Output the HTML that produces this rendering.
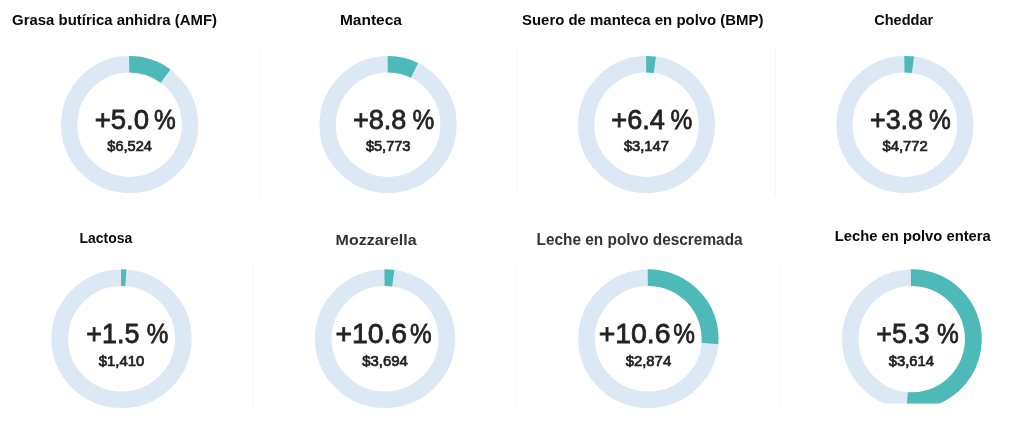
<!DOCTYPE html>
<html lang="es">
<head>
<meta charset="utf-8">
<title>Precios</title>
<style>
html,body{margin:0;padding:0;background:#fff}
body{width:1024px;height:422px;position:relative;overflow:hidden;font-family:"Liberation Sans",sans-serif}
.rings{position:absolute;left:0;top:0}
.sep{position:absolute;background:#f7f7f7;width:1px}
.t{position:absolute;left:0;top:0;white-space:pre;line-height:1;transform-origin:0 0;margin:0}
.h{font-weight:700}
.n{font-weight:400;-webkit-text-stroke:0.8px currentColor}
.d{font-weight:400;-webkit-text-stroke:0.7px currentColor}
</style>
</head>
<body>
<div class="sep" style="left:259px;top:46px;height:151px"></div>
<div class="sep" style="left:517px;top:46px;height:151px"></div>
<div class="sep" style="left:775px;top:46px;height:151px"></div>
<div class="sep" style="left:253px;top:262px;height:147px"></div>
<div class="sep" style="left:516px;top:262px;height:148px"></div>
<div class="sep" style="left:780px;top:262px;height:148px"></div>
<svg class="rings" width="1024" height="422" viewBox="0 0 1024 422">
<defs><clipPath id="c8"><rect x="830" y="250" width="170" height="153.5"/></clipPath></defs>
<g><g transform="translate(129.6 124.65)"><circle cx="0" cy="0" r="60.40" fill="none" stroke="#dde8f5" stroke-width="16.30"/><path d="M-0.48 -68.67A68.67 68.67 0 0 1 40.94 -55.13L31.08 -41.85A52.13 52.13 0 0 0 -0.36 -52.13Z" fill="#4db9b8"/></g></g>
<g><g transform="translate(388.05 124.65)"><circle cx="0" cy="0" r="60.40" fill="none" stroke="#dde8f5" stroke-width="16.30"/><path d="M-0.36 -68.67A68.67 68.67 0 0 1 30.10 -61.72L22.85 -46.85A52.13 52.13 0 0 0 -0.27 -52.13Z" fill="#4db9b8"/></g></g>
<g><g transform="translate(646.5 124.65)"><circle cx="0" cy="0" r="60.40" fill="none" stroke="#dde8f5" stroke-width="16.30"/><path d="M-0.36 -68.67A68.67 68.67 0 0 1 9.44 -68.02L7.16 -51.64A52.13 52.13 0 0 0 -0.27 -52.13Z" fill="#4db9b8"/></g></g>
<g><g transform="translate(904.9 124.65)"><circle cx="0" cy="0" r="60.40" fill="none" stroke="#dde8f5" stroke-width="16.30"/><path d="M-0.60 -68.67A68.67 68.67 0 0 1 9.20 -68.05L6.98 -51.66A52.13 52.13 0 0 0 -0.45 -52.13Z" fill="#4db9b8"/></g></g>
<g><g transform="translate(121.55 338.7) scale(1.0226 1.0102)"><circle cx="0" cy="0" r="60.40" fill="none" stroke="#dde8f5" stroke-width="16.30"/><path d="M-0.48 -68.67A68.67 68.67 0 0 1 4.79 -68.50L3.64 -52.00A52.13 52.13 0 0 0 -0.36 -52.13Z" fill="#4db9b8"/></g></g>
<g><g transform="translate(385.0 338.7) scale(1.0226 1.0102)"><circle cx="0" cy="0" r="60.40" fill="none" stroke="#dde8f5" stroke-width="16.30"/><path d="M-0.60 -68.67A68.67 68.67 0 0 1 9.20 -68.05L6.98 -51.66A52.13 52.13 0 0 0 -0.45 -52.13Z" fill="#4db9b8"/></g></g>
<g><g transform="translate(648.35 338.7) scale(1.0226 1.0102)"><circle cx="0" cy="0" r="60.40" fill="none" stroke="#dde8f5" stroke-width="16.30"/><path d="M-0.60 -68.67A68.67 68.67 0 0 1 68.46 5.39L51.97 4.09A52.13 52.13 0 0 0 -0.45 -52.13Z" fill="#4db9b8"/></g></g>
<g clip-path="url(#c8)"><g transform="translate(911.8 339.2) scale(1.0182 1.0182)"><circle cx="0" cy="0" r="60.40" fill="none" stroke="#dde8f5" stroke-width="16.30"/><path d="M-0.96 -68.66A68.67 68.67 0 1 1 -5.15 68.48L-3.91 51.98A52.13 52.13 0 1 0 -0.73 -52.12Z" fill="#4db9b8"/></g></g>
</svg>
<div class="t h" id="h1" style="font-size:15.36px;transform:translate(12.08px,12.14px) scale(0.9721,1.0000);color:#0a0a0a">Grasa butírica anhidra (AMF)</div>
<div class="t h" id="h2" style="font-size:15.22px;transform:translate(339.93px,12.26px) scale(1.0182,1.0000);color:#0a0a0a">Manteca</div>
<div class="t h" id="h3" style="font-size:15.36px;transform:translate(522.03px,12.14px) scale(0.9722,1.0000);color:#0a0a0a">Suero de manteca en polvo (BMP)</div>
<div class="t h" id="h4" style="font-size:15.07px;transform:translate(874.20px,12.19px) scale(0.9670,1.0000);color:#0a0a0a">Cheddar</div>
<div class="t h" id="h5" style="font-size:14.64px;transform:translate(79.57px,230.66px) scale(0.9545,1.0000);color:#0a0a0a">Lactosa</div>
<div class="t h" id="h6" style="font-size:15.51px;transform:translate(335.62px,232.32px) scale(1.0331,1.0000);color:#333">Mozzarella</div>
<div class="t h" id="h7" style="font-size:15.8px;transform:translate(536.57px,231.77px) scale(0.9737,1.0000);color:#333">Leche en polvo descremada</div>
<div class="t h" id="h8" style="font-size:14.35px;transform:translate(834.80px,229.00px) scale(1.0300,1.0000);color:#0a0a0a">Leche en polvo entera</div>
<div class="num"><span class="t n" id="n1a" style="font-size:28.4px;transform:translate(94.63px,104.59px) scale(0.9705,1.0000);color:#232323">+5.0</span> <span class="t n" id="n1b" style="font-size:28.4px;transform:translate(154.08px,104.59px) scale(0.8610,1.0000);color:#232323">%</span></div>
<div class="num"><span class="t n" id="n2a" style="font-size:28.4px;transform:translate(352.92px,104.59px) scale(0.9517,1.0000);color:#232323">+8.8</span> <span class="t n" id="n2b" style="font-size:28.4px;transform:translate(412.42px,104.59px) scale(0.8616,1.0000);color:#232323">%</span></div>
<div class="num"><span class="t n" id="n3a" style="font-size:28.4px;transform:translate(611.35px,104.59px) scale(0.9541,1.0000);color:#232323">+6.4</span> <span class="t n" id="n3b" style="font-size:28.4px;transform:translate(670.44px,104.59px) scale(0.8628,1.0000);color:#232323">%</span></div>
<div class="num"><span class="t n" id="n4a" style="font-size:28.4px;transform:translate(869.97px,104.59px) scale(0.9456,1.0000);color:#232323">+3.8</span> <span class="t n" id="n4b" style="font-size:28.4px;transform:translate(928.98px,104.59px) scale(0.8626,1.0000);color:#232323">%</span></div>
<div class="num"><span class="t n" id="n5a" style="font-size:28.4px;transform:translate(86.23px,319.32px) scale(0.9497,1.0000);color:#232323">+1.5</span> <span class="t n" id="n5b" style="font-size:28.4px;transform:translate(146.65px,319.32px) scale(0.8548,1.0000);color:#232323">%</span></div>
<div class="num"><span class="t n" id="n6a" style="font-size:28.4px;transform:translate(335.38px,319.32px) scale(0.9989,1.0000);color:#232323">+10.6</span> <span class="t n" id="n6b" style="font-size:28.4px;transform:translate(409.92px,319.32px) scale(0.8572,1.0000);color:#232323">%</span></div>
<div class="num"><span class="t n" id="n7a" style="font-size:28.4px;transform:translate(598.66px,319.32px) scale(1.0002,1.0000);color:#232323">+10.6</span> <span class="t n" id="n7b" style="font-size:28.4px;transform:translate(673.37px,319.32px) scale(0.8589,1.0000);color:#232323">%</span></div>
<div class="num"><span class="t n" id="n8a" style="font-size:28.4px;transform:translate(876.31px,319.32px) scale(0.9503,1.0000);color:#232323">+5.3</span> <span class="t n" id="n8b" style="font-size:28.4px;transform:translate(937.06px,319.32px) scale(0.8614,1.0000);color:#232323">%</span></div>
<div class="t d" id="d1" style="font-size:13.94px;transform:translate(107.35px,140.25px) scale(1.0429,1.0000);color:#222">$6,524</div>
<div class="t d" id="d2" style="font-size:13.94px;transform:translate(365.88px,140.25px) scale(1.0461,1.0000);color:#222">$5,773</div>
<div class="t d" id="d3" style="font-size:13.94px;transform:translate(623.95px,140.25px) scale(1.0536,1.0000);color:#222">$3,147</div>
<div class="t d" id="d4" style="font-size:13.94px;transform:translate(882.45px,140.25px) scale(1.0627,1.0000);color:#222">$4,772</div>
<div class="t d" id="d5" style="font-size:13.94px;transform:translate(98.78px,354.80px) scale(1.0650,1.0000);color:#222">$1,410</div>
<div class="t d" id="d6" style="font-size:13.94px;transform:translate(362.25px,354.80px) scale(1.0684,1.0000);color:#222">$3,694</div>
<div class="t d" id="d7" style="font-size:13.94px;transform:translate(625.68px,354.80px) scale(1.0666,1.0000);color:#222">$2,874</div>
<div class="t d" id="d8" style="font-size:13.94px;transform:translate(888.72px,354.80px) scale(1.0607,1.0000);color:#222">$3,614</div>
</body>
</html>
